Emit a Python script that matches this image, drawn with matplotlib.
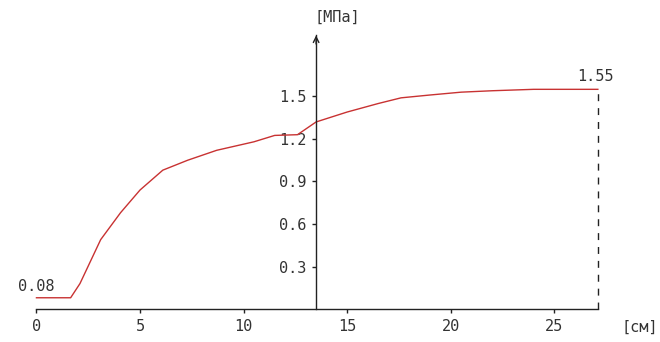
import matplotlib
matplotlib.use('Agg')
import matplotlib.pyplot as plt

# curve (x in cm, y in MPa)
x_cm = [0, 1.65, 2.1, 3.1, 4.06, 5.0, 6.1, 7.3, 8.7, 10.5, 11.5, 12.6,
        13.5, 15, 16.5, 17.6, 19, 20.5, 22, 24, 27.1]
p_mpa = [0.08, 0.08, 0.18, 0.49, 0.68, 0.84, 0.98, 1.05, 1.12, 1.18, 1.225, 1.23,
         1.32, 1.39, 1.45, 1.49, 1.51, 1.53, 1.54, 1.55, 1.55]

x_ticks = [0, 5, 10, 15, 20, 25]
y_ticks = [0.3, 0.6, 0.9, 1.2, 1.5]
y_axis_at = 13.5
x_end = 27.1
start_label = '0.08'
end_label = '1.55'

font = 'DejaVu Sans Mono'
fs = 11
txt = '#333333'

fig = plt.figure(figsize=(6.6, 3.42), dpi=100)
ax = fig.add_axes([0, 0, 1, 1])
ax.set_xlim(-1.76, 30.1)
ax.set_ylim(-0.232, 2.18)

ax.plot(x_cm, p_mpa, color='#c83232', linewidth=1)
ax.plot([x_end, x_end], [0, p_mpa[-1]], color='#222222', linewidth=1,
        linestyle=(0, (5, 5)))

for side in ('top', 'right'):
    ax.spines[side].set_visible(False)
ax.spines['left'].set_position(('data', y_axis_at))
ax.spines['left'].set_bounds(0, 1.93)
ax.spines['bottom'].set_position(('data', 0))
ax.spines['bottom'].set_bounds(0, x_end)
for side in ('left', 'bottom'):
    ax.spines[side].set_color('#222222')
    ax.spines[side].set_linewidth(1)

ax.set_xticks(x_ticks)
ax.set_yticks(y_ticks)
ax.set_yticklabels([f'{v:.1f}' for v in y_ticks])
ax.tick_params(direction='out', length=3, width=1, colors='#222222',
               labelcolor=txt, labelsize=fs, pad=4)
for lab in ax.get_xticklabels() + ax.get_yticklabels():
    lab.set_family(font)

ax.annotate('', xy=(y_axis_at, 1.95), xytext=(y_axis_at, 1.85),
            arrowprops=dict(arrowstyle='->', color='#222222', lw=1))

ax.text(14.5, 2.06, '[МПа]', family=font, fontsize=fs, color=txt,
        ha='center', va='center')
ax.text(29.1, -0.126, '[см]', family=font, fontsize=fs, color=txt,
        ha='center', va='center')
ax.text(0, 0.16, start_label, family=font, fontsize=fs, color=txt,
        ha='center', va='center')
ax.text(27.0, 1.64, end_label, family=font, fontsize=fs, color=txt,
        ha='center', va='center')

fig.savefig('out.png', dpi=100)
